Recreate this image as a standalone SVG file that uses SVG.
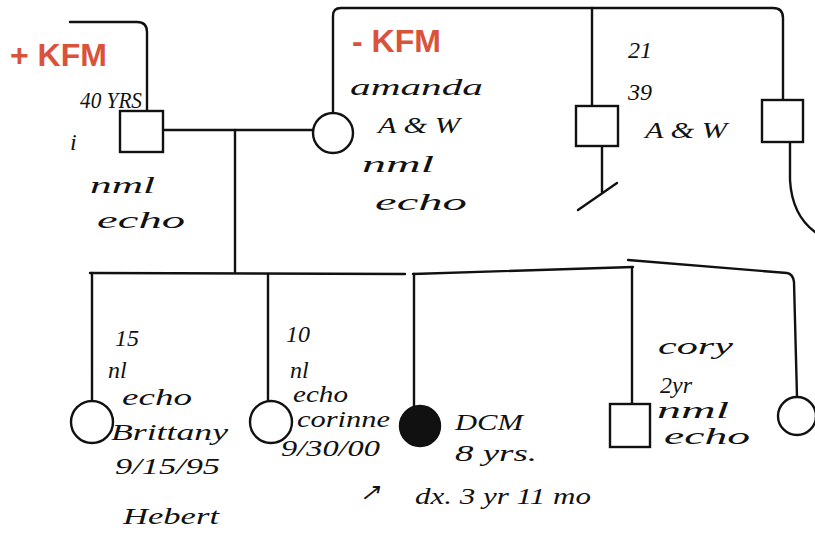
<svg xmlns="http://www.w3.org/2000/svg" width="815" height="535" viewBox="0 0 815 535">
<style>
.ln{fill:none;stroke:#111;stroke-width:2.4;stroke-linecap:round;stroke-linejoin:round}
.sym{fill:#fff;stroke:#111;stroke-width:2.4}
.aff{fill:#111;stroke:#111;stroke-width:2.4}
.hw{font-family:"Liberation Serif",serif;font-style:italic;font-size:24px;fill:#111}
.kfm{font-family:"Liberation Sans",Arial,sans-serif;font-weight:bold;font-size:32px;fill:#d9533a}
</style>
<rect width="815" height="535" fill="#fff"/>
<g id="connectors">
<path class="ln" d="M70,22 L137,22 Q147,22 147,32 L147,110"/>
<path class="ln" d="M163,130 L313,130"/>
<path class="ln" d="M235,130 L235,272"/>
<path class="ln" d="M333,113 L333,16 Q333,8 341,8 L773,8 Q783,8 783,18 L783,100"/>
<path class="ln" d="M592,8 L592,108"/>
<path class="ln" d="M602,146 L602,192"/>
<path class="ln" d="M578,210 L617,183"/>
<path class="ln" d="M790,142 L790,180 Q792,215 815,232"/>
<path class="ln" d="M90,273 L405,274"/>
<path class="ln" d="M413,274 L633,267"/>
<path class="ln" d="M628,260 L787,273 Q793,274 794,282 L797,397"/>
<path class="ln" d="M92,273 L92,401"/>
<path class="ln" d="M268,274 L268,401"/>
<path class="ln" d="M414,274 L414,406"/>
<path class="ln" d="M632,268 L632,403"/>
</g>
<g id="father">
<rect class="sym" x="120" y="111" width="43" height="41"/>
<text class="hw" x="80" y="108" font-size="20" textLength="62" lengthAdjust="spacingAndGlyphs">40 YRS</text>
<text class="hw" x="70" y="150" font-size="20">i</text>
<text class="hw" x="90" y="193" font-size="26" textLength="65" lengthAdjust="spacingAndGlyphs">nml</text>
<text class="hw" x="97" y="228" font-size="28" textLength="88" lengthAdjust="spacingAndGlyphs">echo</text>
<text class="kfm" x="10" y="66">+ KFM</text>
</g>
<g id="mother">
<circle class="sym" cx="333" cy="133" r="20"/>
<text class="kfm" x="352" y="52">- KFM</text>
<text class="hw" x="350" y="95" font-size="28" textLength="133" lengthAdjust="spacingAndGlyphs">amanda</text>
<text class="hw" x="378" y="133" font-size="26" textLength="82" lengthAdjust="spacingAndGlyphs">A &amp; W</text>
<text class="hw" x="362" y="172" font-size="28" textLength="72" lengthAdjust="spacingAndGlyphs">nml</text>
<text class="hw" x="375" y="210" font-size="28" textLength="92" lengthAdjust="spacingAndGlyphs">echo</text>
</g>
<g id="uncle">
<rect class="sym" x="576" y="106" width="42" height="40"/>
<text class="hw" x="628" y="58" font-size="28">21</text>
<text class="hw" x="628" y="100" font-size="28">39</text>
<text class="hw" x="645" y="138" font-size="22" textLength="82" lengthAdjust="spacingAndGlyphs">A &amp; W</text>
</g>
<g id="uncle2">
<rect class="sym" x="762" y="100" width="41" height="42"/>
</g>
<g id="daughter1">
<circle class="sym" cx="92" cy="422" r="21"/>
<text class="hw" x="115" y="346">15</text>
<text class="hw" x="108" y="378" font-size="20">nl</text>
<text class="hw" x="122" y="405" font-size="22" textLength="70" lengthAdjust="spacingAndGlyphs">echo</text>
<text class="hw" x="111" y="440" textLength="117" lengthAdjust="spacingAndGlyphs">Brittany</text>
<text class="hw" x="115" y="474" textLength="105" lengthAdjust="spacingAndGlyphs">9/15/95</text>
<text class="hw" x="123" y="524" font-size="26" textLength="96" lengthAdjust="spacingAndGlyphs">Hebert</text>
</g>
<g id="daughter2">
<circle class="sym" cx="271" cy="422" r="21"/>
<text class="hw" x="286" y="342">10</text>
<text class="hw" x="290" y="378" font-size="17">nl</text>
<text class="hw" x="293" y="402" font-size="18" textLength="55" lengthAdjust="spacingAndGlyphs">echo</text>
<text class="hw" x="297" y="427" font-size="19" textLength="93" lengthAdjust="spacingAndGlyphs">corinne</text>
<text class="hw" x="281" y="456" font-size="20" textLength="99" lengthAdjust="spacingAndGlyphs">9/30/00</text>
<text class="hw" x="360" y="500">↗</text>
</g>
<g id="proband">
<circle class="aff" cx="420" cy="426" r="20"/>
<text class="hw" x="455" y="430" font-size="26" textLength="68" lengthAdjust="spacingAndGlyphs">DCM</text>
<text class="hw" x="455" y="461" textLength="82" lengthAdjust="spacingAndGlyphs">8 yrs.</text>
<text class="hw" x="415" y="504" textLength="176" lengthAdjust="spacingAndGlyphs">dx. 3 yr 11 mo</text>
</g>
<g id="brother">
<rect class="sym" x="610" y="404" width="40" height="43"/>
<text class="hw" x="658" y="354" font-size="30" textLength="75" lengthAdjust="spacingAndGlyphs">cory</text>
<text class="hw" x="660" y="393" font-size="17">2yr</text>
<text class="hw" x="657" y="418" font-size="18" textLength="72" lengthAdjust="spacingAndGlyphs">nml</text>
<text class="hw" x="664" y="444" font-size="19" textLength="86" lengthAdjust="spacingAndGlyphs">echo</text>
</g>
<g id="halfsister">
<circle class="sym" cx="797" cy="416" r="19"/>
</g>
</svg>
